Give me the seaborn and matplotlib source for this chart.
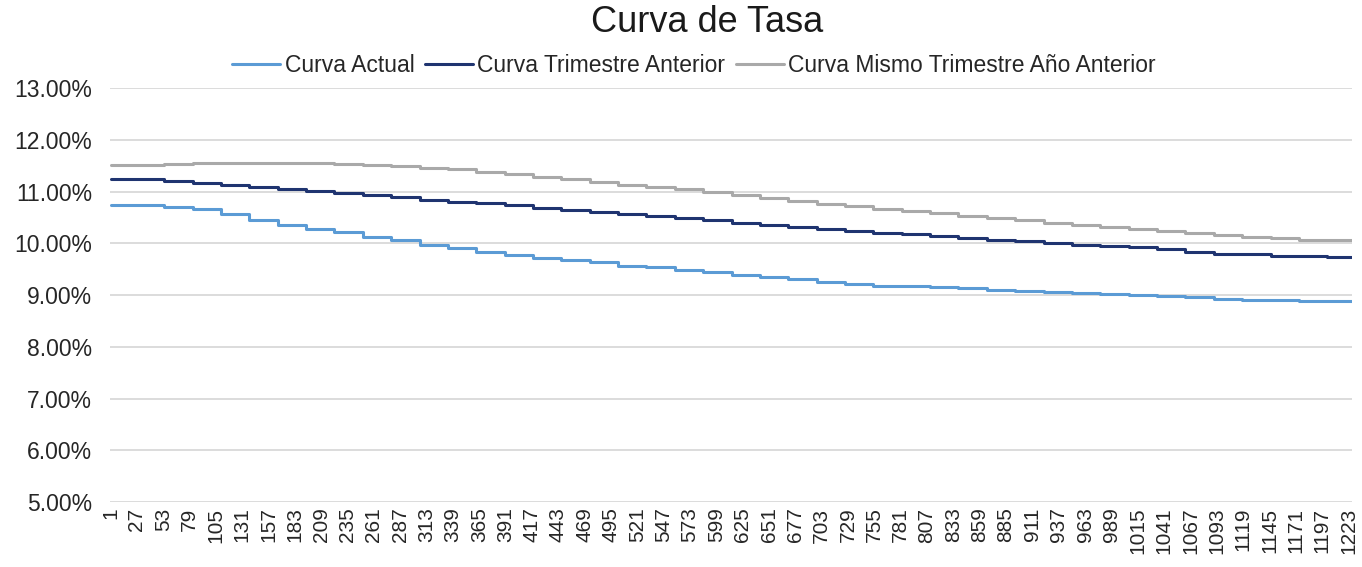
import numpy as np
import pandas as pd

import matplotlib
matplotlib.use("Agg")
import matplotlib.pyplot as plt
from matplotlib.ticker import PercentFormatter
import seaborn as sns


N_DAYS = 1226

# dias en los que cambia el escalon de la curva
step_days = [1, 54, 82, 110, 138, 166, 194, 222, 250, 278, 306, 334, 362, 390,
             418, 446, 474, 502, 530, 558, 586, 614, 642, 670, 698, 726, 754,
             782, 810, 838, 866, 894, 922, 950, 978, 1006, 1034, 1062, 1090,
             1118, 1146, 1174, 1202]

curva_actual = [10.74, 10.70, 10.66, 10.56, 10.45, 10.36, 10.28, 10.21, 10.13,
                10.06, 9.97, 9.90, 9.83, 9.765, 9.72, 9.68, 9.63, 9.57, 9.535,
                9.48, 9.435, 9.39, 9.355, 9.31, 9.26, 9.215, 9.18, 9.165, 9.155,
                9.13, 9.105, 9.08, 9.055, 9.035, 9.015, 9.0, 8.985, 8.96, 8.93,
                8.91, 8.897, 8.89, 8.877]

curva_trim_anterior = [11.24, 11.195, 11.155, 11.12, 11.085, 11.045, 11.01,
                       10.975, 10.93, 10.885, 10.845, 10.805, 10.77, 10.73,
                       10.685, 10.645, 10.605, 10.56, 10.52, 10.48, 10.44, 10.40,
                       10.355, 10.315, 10.275, 10.24, 10.20, 10.17, 10.14, 10.10,
                       10.07, 10.04, 10.0, 9.975, 9.94, 9.92, 9.885, 9.84, 9.80,
                       9.785, 9.76, 9.745, 9.735]

curva_anio_anterior = [11.516, 11.535, 11.545, 11.548, 11.548, 11.548, 11.545,
                       11.535, 11.516, 11.49, 11.458, 11.426, 11.381, 11.335,
                       11.284, 11.239, 11.187, 11.135, 11.09, 11.039, 10.987,
                       10.929, 10.877, 10.826, 10.768, 10.723, 10.671, 10.626,
                       10.581, 10.535, 10.49, 10.445, 10.40, 10.361, 10.323,
                       10.28, 10.245, 10.20, 10.155, 10.123, 10.097, 10.071,
                       10.058]

series_names = ["Curva Actual", "Curva Trimestre Anterior",
                "Curva Mismo Trimestre Año Anterior"]
series_colors = ["#5B9BD5", "#1F3470", "#A9A9A9"]

x_ticks = list(range(1, 1224, 26))
y_ticks = [5, 6, 7, 8, 9, 10, 11, 12, 13]


frames = []
for name, vals in zip(series_names,
                      [curva_actual, curva_trim_anterior, curva_anio_anterior]):
    frames.append(pd.DataFrame({
        "dia": step_days + [N_DAYS],
        "tasa": vals + [vals[-1]],
        "curva": name,
    }))
df = pd.concat(frames, ignore_index=True)

sns.set_theme(style="white")
plt.rcParams["font.family"] = ["Liberation Sans", "DejaVu Sans"]
text_color = "#262626"

fig = plt.figure(figsize=(13.62, 5.67), dpi=100)
ax = fig.add_axes([0.0808, 0.1146, 0.9119, 0.7302])

sns.lineplot(data=df, x="dia", y="tasa", hue="curva", hue_order=series_names,
             palette=series_colors, drawstyle="steps-post", linewidth=2.2,
             ax=ax)

ax.set_xlim(0.5, N_DAYS + 0.5)
ax.set_ylim(5, 13)
ax.set_yticks(y_ticks)
ax.yaxis.set_major_formatter(PercentFormatter(decimals=2))
ax.set_xticks(x_ticks)
ax.set_xticklabels([str(t) for t in x_ticks], rotation=90)
ax.tick_params(axis="y", length=0, pad=13, labelsize=16.5, labelcolor=text_color)
ax.tick_params(axis="x", length=0, pad=4, labelsize=15, labelcolor=text_color)
ax.set_xlabel("")
ax.set_ylabel("")

ax.yaxis.grid(True, color="#D9D9D9", linewidth=1.3)
ax.xaxis.grid(False)
for s in ax.spines.values():
    s.set_visible(False)

handles, labels = ax.get_legend_handles_labels()
ax.get_legend().remove()
fig.legend(handles, labels, loc="center", bbox_to_anchor=(0.5095, 0.8836),
           ncol=3, frameon=False, fontsize=16.5, handlelength=2.1,
           handletextpad=0.2, columnspacing=0.45, labelcolor=text_color)

fig.text(0.519, 1 - 23 / 567, "Curva de Tasa", ha="center", va="center",
         fontsize=26, color="#1a1a1a")

fig.savefig("out.png", dpi=100)
plt.close(fig)
